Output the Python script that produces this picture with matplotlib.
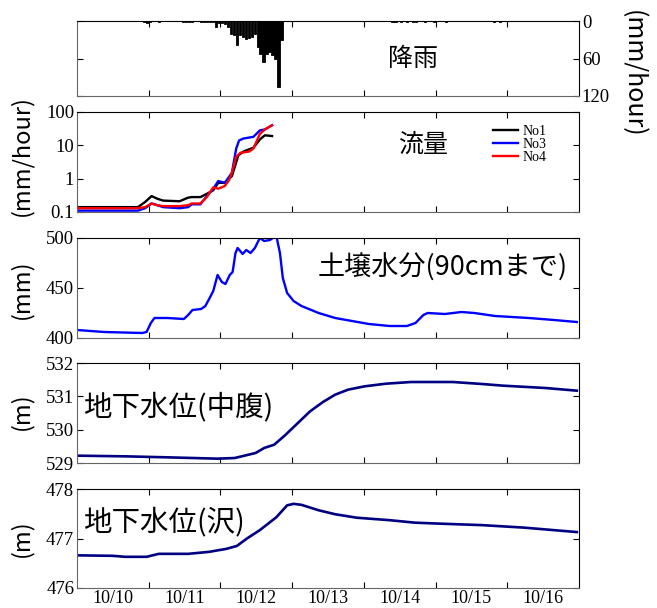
"""Rain, runoff, soil moisture and groundwater level, 10/10 - 10/17."""
import matplotlib

matplotlib.use("Agg")
import matplotlib.pyplot as plt  # noqa: E402
from matplotlib.ticker import FixedLocator, NullLocator  # noqa: E402

# time axis: days since 10/10 00:00
day_ticks = [1, 2, 3, 4, 5, 6]
day_label_pos = [0.5, 1.5, 2.5, 3.5, 4.5, 5.5, 6.5]
day_labels = ["10/10", "10/11", "10/12", "10/13", "10/14", "10/15", "10/16"]

# hourly rainfall (hour index since 10/10 00:00, mm/hour)
rain_hour = [22, 23, 24, 27, 35, 36, 37, 38, 41, 42, 43, 44, 45, 46, 47, 48, 49,
             50, 51, 52, 53, 54, 55, 56, 57, 58, 59, 60, 61, 62, 63, 64, 65, 66,
             67, 68, 105, 106, 108, 110, 112, 113, 116, 119, 123, 139, 141]
rain_mm = [2, 3, 1, 1, 1, 1, 2, 1, 1, 2, 1, 2, 1, 9, 3, 3, 4,
           10, 20, 22, 39, 22, 25, 28, 27, 25, 20, 42, 52, 66, 52, 50, 55, 60,
           105, 31, 1, 1, 1, 2, 1, 1, 1, 1, 1, 1, 1]

# runoff (mm/hour)
no1_day = [0, 0.85, 0.95, 1.04, 1.12, 1.20, 1.43, 1.55, 1.60, 1.72, 1.81, 1.90,
           1.97, 2.06, 2.16, 2.25, 2.32, 2.46, 2.55, 2.62, 2.72]
no1_q = [0.14, 0.14, 0.2, 0.30, 0.25, 0.22, 0.21, 0.27, 0.28, 0.28, 0.35, 0.45,
         0.75, 0.75, 1.2, 5.0, 6.5, 8.5, 15, 20, 19]
no3_day = [0, 0.85, 0.95, 1.04, 1.12, 1.20, 1.43, 1.55, 1.60, 1.72, 1.81, 1.90,
           1.97, 2.06, 2.16, 2.22, 2.26, 2.32, 2.46, 2.55, 2.62, 2.72]
no3_q = [0.11, 0.11, 0.13, 0.18, 0.16, 0.14, 0.13, 0.14, 0.17, 0.17, 0.3, 0.5,
         0.85, 0.75, 1.5, 8, 14, 16, 18, 28, 30, 40]
no4_day = [0, 0.85, 0.95, 1.04, 1.12, 1.20, 1.43, 1.55, 1.60, 1.72, 1.81, 1.90,
           1.97, 2.06, 2.12, 2.16, 2.22, 2.28, 2.40, 2.46, 2.55, 2.62, 2.72]
no4_q = [0.13, 0.13, 0.14, 0.18, 0.16, 0.15, 0.15, 0.16, 0.18, 0.18, 0.28, 0.55,
         0.5, 0.6, 0.9, 1.5, 4.5, 6.0, 6.5, 8, 22, 30, 40]

# soil water storage to 90 cm (mm)
soil_day = [0, 0.38, 0.91, 0.97, 1.03, 1.08, 1.26, 1.49, 1.55, 1.61, 1.73, 1.79,
            1.85, 1.90, 1.96, 2.02, 2.07, 2.13, 2.17, 2.21, 2.24, 2.31, 2.36,
            2.42, 2.48, 2.55, 2.61, 2.69, 2.75, 2.78, 2.83, 2.87, 2.93, 3.02,
            3.13, 3.37, 3.60, 4.07, 4.36, 4.60, 4.72, 4.83, 4.89, 5.13, 5.36,
            5.54, 5.83, 6.30, 6.65, 6.97]
soil_mm = [408, 406, 405, 406, 415, 420, 420, 419, 423, 428, 429, 432,
           440, 447, 463, 456, 454, 463, 466, 485, 490, 484, 488,
           485, 490, 500, 497, 498, 501, 502, 485, 460, 445, 437,
           432, 425, 420, 414, 412, 412, 415, 423, 425, 424, 426,
           425, 422, 420, 418, 416]

# groundwater level, hillslope (m)
gwm_day = [0, 0.67, 1.26, 1.96, 2.20, 2.49, 2.61, 2.75, 2.90, 3.08, 3.25, 3.43,
           3.60, 3.78, 4.01, 4.31, 4.66, 5.24, 5.65, 5.94, 6.53, 6.97]
gwm_m = [529.22, 529.2, 529.17, 529.13, 529.15, 529.3, 529.45, 529.55, 529.83,
         530.2, 530.55, 530.83, 531.05, 531.2, 531.3, 531.38, 531.43, 531.43,
         531.37, 531.32, 531.25, 531.17]

# groundwater level, stream (m)
gws_day = [0, 0.5, 0.67, 0.97, 1.14, 1.55, 1.84, 2.08, 2.23, 2.37, 2.55, 2.78,
           2.93, 3.02, 3.13, 3.37, 3.60, 3.90, 4.36, 4.71, 5.06, 5.65, 6.23, 6.97]
gws_m = [476.66, 476.65, 476.63, 476.63, 476.69, 476.69, 476.73, 476.79, 476.85,
         477.0, 477.17, 477.43, 477.67, 477.7, 477.68, 477.57, 477.49, 477.42,
         477.37, 477.32, 477.3, 477.27, 477.22, 477.13]

JP = ["Noto Sans CJK JP", "DejaVu Sans"]
SERIF = "Liberation Serif"
W, H = 657, 608


def px_axes(fig, top, bottom, left=77, right=579):
    return fig.add_axes([left / W, 1 - bottom / H, (right - left) / W, (bottom - top) / H])


def style(ax, last=False):
    ax.set_xlim(0, 7)
    ax.xaxis.set_major_locator(FixedLocator(day_ticks))
    ax.xaxis.set_minor_locator(FixedLocator(day_label_pos))
    ax.tick_params(which="major", direction="in", length=4, top=True, right=True,
                   labelbottom=False, labelsize=13.5, pad=2)
    ax.tick_params(which="minor", length=0, labelbottom=last, pad=1.5, labelsize=13)
    if last:
        ax.set_xticks(day_label_pos, day_labels, minor=True)
    for lab in ax.get_xticklabels(minor=True) + ax.get_yticklabels():
        lab.set_fontfamily(SERIF)
    for s in ("left", "bottom"):
        ax.spines[s].set_color("0.4")
    for s in ("top", "right"):
        ax.spines[s].set_color("k")


fig = plt.figure(figsize=(W / 100, H / 100), dpi=100)

# rainfall
ax = px_axes(fig, 21, 96)
ax.bar([(h + 0.5) / 24 for h in rain_hour], rain_mm, width=0.85 / 24, color="k",
       edgecolor="k", linewidth=0.6)
ax.set_ylim(120, 0)
ax.set_yticks([0, 60, 120])
style(ax)
ax.tick_params(axis="y", labelleft=False, labelright=True)
for lab in ax.get_yticklabels():
    lab.set_fontfamily(SERIF)
ax.text(0.67, 0.5, "降雨", transform=ax.transAxes, ha="center", va="center",
        fontsize=18, family=JP)
fig.text(633 / W, 1 - 74 / H, "(mm/hour)", rotation=-90, ha="center", va="center",
         fontsize=18, family=JP)

# runoff
ax = px_axes(fig, 112, 212)
ax.plot(no1_day, no1_q, color="k", lw=1.7, label="No1")
ax.plot(no3_day, no3_q, color="#0000ff", lw=1.7, label="No3")
ax.plot(no4_day, no4_q, color="#ff0000", lw=1.7, label="No4")
ax.set_yscale("log")
ax.set_ylim(0.1, 100)
ax.yaxis.set_major_locator(FixedLocator([0.1, 1, 10, 100]))
ax.set_yticklabels(["0.1", "1", "10", "100"])
ax.yaxis.set_minor_locator(NullLocator())
style(ax)
ax.text(0.69, 0.67, "流量", transform=ax.transAxes, ha="center", va="center",
        fontsize=18, family=JP)
ax.legend(loc="upper left", bbox_to_anchor=(0.815, 0.94), frameon=False,
          handlelength=1.8, handletextpad=0.3, labelspacing=0.0,
          borderpad=0, prop={"family": SERIF, "size": 10})
fig.text(21 / W, 1 - 156 / H, "(mm/hour)", rotation=90, ha="center", va="center",
         fontsize=17, family=JP)

# soil moisture
ax = px_axes(fig, 238, 338)
ax.plot(soil_day, soil_mm, color="#0000ff", lw=1.7)
ax.set_ylim(400, 500)
ax.set_yticks([400, 450, 500])
style(ax)
ax.text(0.978, 0.70, "土壌水分(90cmまで)", transform=ax.transAxes, ha="right",
        va="center", fontsize=19.5, family=JP)
fig.text(21 / W, 1 - 289 / H, "(mm)", rotation=90, ha="center", va="center",
         fontsize=17, family=JP)

# groundwater, hillslope
ax = px_axes(fig, 363, 463)
ax.plot(gwm_day, gwm_m, color="#000080", lw=1.9)
ax.set_ylim(529, 532)
ax.set_yticks([529, 530, 531, 532])
style(ax)
ax.text(0.012, 0.56, "地下水位(中腹)", transform=ax.transAxes, ha="left",
        va="center", fontsize=20.5, family=JP)
fig.text(21 / W, 1 - 411 / H, "(m)", rotation=90, ha="center", va="center",
         fontsize=17, family=JP)

# groundwater, stream
ax = px_axes(fig, 489, 588)
ax.plot(gws_day, gws_m, color="#000080", lw=1.9)
ax.set_ylim(476, 478)
ax.set_yticks([476, 477, 478])
style(ax, last=True)
ax.text(0.012, 0.66, "地下水位(沢)", transform=ax.transAxes, ha="left",
        va="center", fontsize=20.5, family=JP)
fig.text(21 / W, 1 - 538 / H, "(m)", rotation=90, ha="center", va="center",
         fontsize=17, family=JP)

fig.savefig("out.png", dpi=100)
